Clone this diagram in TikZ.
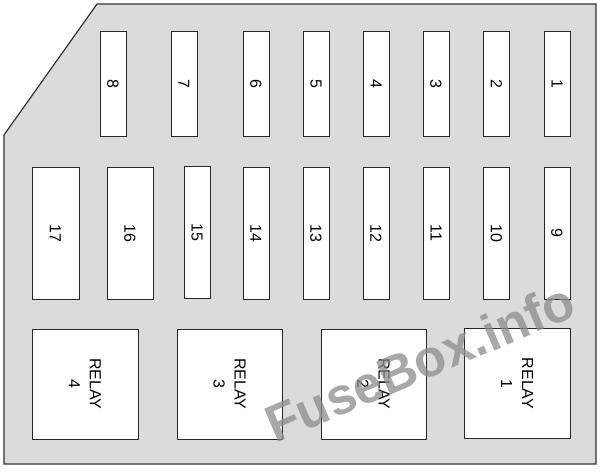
\documentclass[tikz,border=0pt]{standalone}
\usepackage{fontspec}
\setmainfont{Liberation Sans}
\begin{document}
\begin{tikzpicture}[x=1pt,y=-1pt,
  box/.style={draw=black!85, fill=white, line width=1pt, inner sep=0pt, rotate=-90,
    font=\fontsize{16}{21}\selectfont, align=center},
  topfuse/.style={box, minimum width=105pt, minimum height=26pt},
  midfuse/.style={box, minimum width=132pt, minimum height=26pt},
  widefuse/.style={box, minimum width=132pt, minimum height=47pt},
  relaybox/.style={box, minimum width=110pt, minimum height=106pt},
  housing/.style={draw=black!80, fill=black!14, line width=1.2pt, line join=miter},
  watermark/.style={text=black!45, opacity=0.75, font=\fontsize{52}{52}\selectfont\bfseries, rotate=23}
]
\useasboundingbox (0,0) rectangle (600,469);
\fill[white] (0,0) rectangle (600,469);
\draw[housing] (97,4) -- (596,4) -- (596,464) -- (4,464) -- (4,135) -- cycle;
% top row
\node[topfuse] (f8) at (113,83.5) {8};
\node[topfuse] (f7) at (184,83.5) {7};
\node[topfuse] (f6) at (256,83.5) {6};
\node[topfuse] (f5) at (316,83.5) {5};
\node[topfuse] (f4) at (376,83.5) {4};
\node[topfuse] (f3) at (436,83.5) {3};
\node[topfuse] (f2) at (496.5,83.5) {2};
\node[topfuse] (f1) at (557,83.5) {1};
% middle row
\node[widefuse] (f17) at (55.5,233) {17};
\node[widefuse, minimum height=46pt] (f16) at (130,233) {16};
\node[midfuse] (f15) at (197,232) {15};
\node[midfuse] (f14) at (256,233) {14};
\node[midfuse] (f13) at (316,233) {13};
\node[midfuse] (f12) at (376,233) {12};
\node[midfuse] (f11) at (436,233) {11};
\node[midfuse] (f10) at (496.5,233) {10};
\node[midfuse] (f9) at (557,233) {9};
% relays
\node[relaybox] (r4) at (85,384) {RELAY\\4};
\node[relaybox, minimum height=105pt] (r3) at (229.5,384) {RELAY\\3};
\node[relaybox, minimum height=105pt] (r2) at (373.5,384) {RELAY\\2};
\node[relaybox] (r1) at (517,383.5) {RELAY\\1};
% watermark
\node[watermark] (wm) at (420,362) {FuseBox.info};
\end{tikzpicture}
\end{document}
